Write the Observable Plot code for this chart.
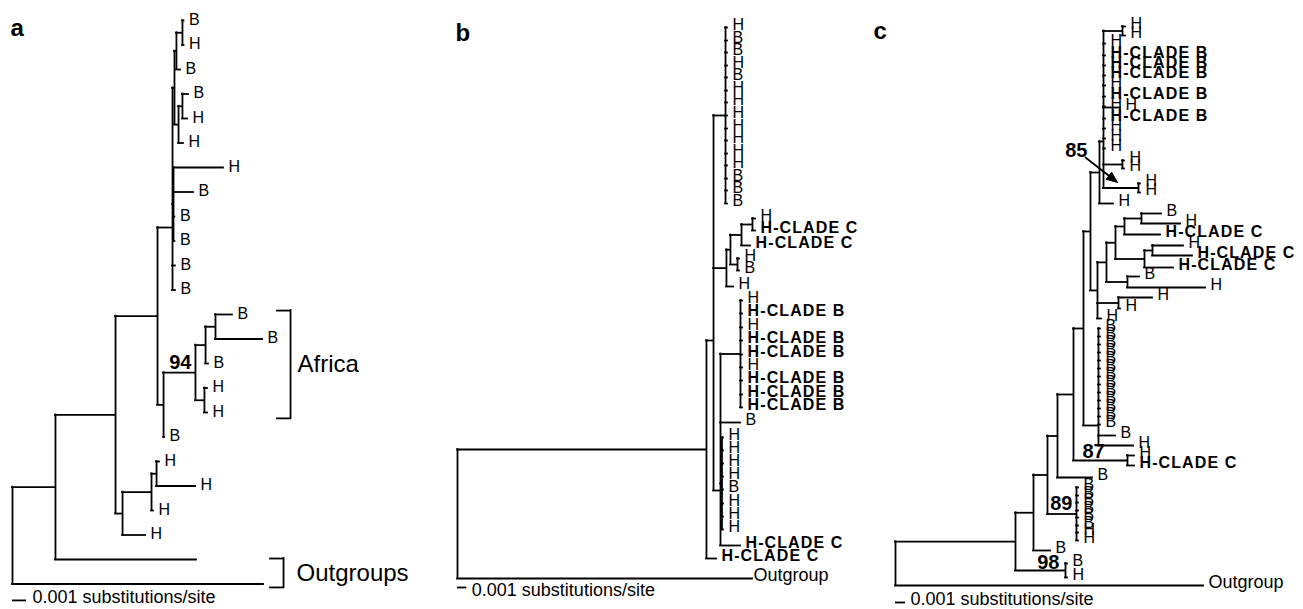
<!DOCTYPE html>
<html>
<head>
<meta charset="utf-8">
<script src="https://cdn.jsdelivr.net/npm/d3@7"></script>
<script src="https://cdn.jsdelivr.net/npm/@observablehq/plot@0.6"></script>
<style>
  html, body { margin: 0; padding: 0; background: #fff; }
  #fig { position: relative; width: 1303px; height: 609px; overflow: hidden; background: #fff; }
</style>
</head>
<body>
<div id="fig"></div>
<script>
// ---------------- DATA ----------------
// Each tree row: [node id (null for a tip), parent id, distance from root (substitutions/site),
//                 vertical row (tips; null = midway between children), tip label]
const treeA = [
  ["R", null, 0, null, ""],
  ["N1", "R", 0.00307, null, ""],
  [null, "R", 0.01793, 23, ""],
  ["N2", "N1", 0.00736, null, ""],
  [null, "N1", 0.01314, 22, ""],
  ["N3", "N2", 0.01036, null, ""],
  ["NH", "N2", 0.00786, null, ""],
  ["NH1", "NH", 0.00993, null, ""],
  ["NH2", "NH1", 0.01029, null, ""],
  [null, "NH2", 0.0105, 18, "H"],
  [null, "NH2", 0.01307, 19, "H"],
  [null, "NH1", 0.01007, 20, "H"],
  [null, "NH", 0.0095, 21, "H"],
  ["U0", "N3", 0.01143, 8.45, ""],
  ["N5", "N3", 0.01079, null, ""],
  ["N94", "N5", 0.01307, null, ""],
  [null, "N5", 0.01086, 17, "B"],
  ["NA1", "N94", 0.01379, null, ""],
  ["NA2", "N94", 0.01371, null, ""],
  ["NA3", "NA1", 0.0145, null, ""],
  [null, "NA3", 0.01571, 12, "B"],
  [null, "NA3", 0.01786, 13, "B"],
  [null, "NA1", 0.014, 14, "B"],
  [null, "NA2", 0.01393, 15, "H"],
  [null, "NA2", 0.01393, 16, "H"],
  ["U1", "U0", 0.01157, null, ""],
  ["T1", "U1", 0.01171, null, ""],
  ["T1a", "T1", 0.01214, null, ""],
  [null, "T1a", 0.01225, 0, "B"],
  [null, "T1a", 0.01225, 1, "H"],
  [null, "T1", 0.012, 2, "B"],
  ["T2", "U1", 0.01186, null, ""],
  ["T2a", "T2", 0.01214, null, ""],
  [null, "T2a", 0.01257, 3, "B"],
  [null, "T2a", 0.0125, 4, "H"],
  [null, "T2", 0.01221, 5, "H"],
  ["U0b", "U0", 0.0115, null, ""],
  [null, "U0b", 0.01507, 6, "H"],
  [null, "U0b", 0.01293, 7, "B"],
  [null, "U0b", 0.0116, 8, "B"],
  [null, "U0b", 0.0116, 9, "B"],
  [null, "U0", 0.01164, 10, "B"],
  [null, "U0", 0.01164, 11, "B"]
];

const treeB = [
  ["R", null, 0, null, ""],
  [null, "R", 0.03172, 57.8, "Outgroup"],
  ["B1", "R", 0.02677, null, ""],
  [null, "B1", 0.02785, 55.8, "H-CLADE C"],
  ["B2", "B1", 0.02753, 34.0, ""],
  ["TC", "B2", 0.02882, null, ""],
  [null, "TC", 0.02903, 2.7, "H"],
  [null, "TC", 0.02903, 4.0, "B"],
  [null, "TC", 0.02903, 5.2, "B"],
  [null, "TC", 0.02903, 6.5, "H"],
  [null, "TC", 0.02903, 7.7, "B"],
  [null, "TC", 0.02903, 9.0, "H"],
  [null, "TC", 0.02903, 10.2, "H"],
  [null, "TC", 0.02903, 11.5, "H"],
  [null, "TC", 0.02903, 12.8, "H"],
  [null, "TC", 0.02903, 14.0, "H"],
  [null, "TC", 0.02903, 15.3, "H"],
  [null, "TC", 0.02903, 16.5, "H"],
  [null, "TC", 0.02903, 17.8, "B"],
  [null, "TC", 0.02903, 19.0, "B"],
  [null, "TC", 0.02903, 20.3, "B"],
  ["M", "B2", 0.02892, null, ""],
  ["M1", "M", 0.02935, null, ""],
  ["Cb1", "M1", 0.03054, null, ""],
  ["Cb2", "Cb1", 0.03172, null, ""],
  [null, "Cb2", 0.03204, 21.8, "H"],
  [null, "Cb2", 0.03204, 23.0, "H-CLADE C"],
  [null, "Cb1", 0.03151, 24.5, "H-CLADE C"],
  ["Mb", "M1", 0.03011, null, ""],
  [null, "Mb", 0.03032, 25.8, "H"],
  [null, "Mb", 0.03032, 27.0, "B"],
  [null, "M", 0.02968, 28.6, "H"],
  ["L", "B2", 0.02828, 49.0, ""],
  ["CB", "L", 0.03043, null, ""],
  [null, "CB", 0.03065, 30.0, "H"],
  [null, "CB", 0.03065, 31.3, "H-CLADE B"],
  [null, "CB", 0.03065, 32.7, "H"],
  [null, "CB", 0.03065, 34.0, "H-CLADE B"],
  [null, "CB", 0.03065, 35.4, "H-CLADE B"],
  [null, "CB", 0.03065, 36.7, "H"],
  [null, "CB", 0.03065, 38.0, "H-CLADE B"],
  [null, "CB", 0.03065, 39.4, "H-CLADE B"],
  [null, "CB", 0.03065, 40.7, "H-CLADE B"],
  [null, "L", 0.03043, 42.2, "B"],
  ["HC", "L", 0.02844, null, ""],
  [null, "HC", 0.0286, 43.7, "H"],
  [null, "HC", 0.0286, 45.0, "H"],
  [null, "HC", 0.0286, 46.3, "H"],
  [null, "HC", 0.0286, 47.6, "H"],
  [null, "HC", 0.0286, 48.9, "B"],
  [null, "HC", 0.0286, 50.3, "H"],
  [null, "HC", 0.0286, 51.6, "H"],
  [null, "HC", 0.0286, 52.9, "H"],
  [null, "L", 0.03043, 54.5, "H-CLADE C"]
];

const treeC = [
  ["R", null, 0, null, ""],
  [null, "R", 0.0308, 58.5, "Outgroup"],
  ["C1", "R", 0.012, null, ""],
  ["C98", "C1", 0.017, null, ""],
  [null, "C98", 0.0172, 56.3, "B"],
  [null, "C98", 0.0172, 57.7, "H"],
  ["C2", "C1", 0.0138, null, ""],
  [null, "C2", 0.0155, 55.0, "B"],
  ["C3", "C2", 0.0152, null, ""],
  ["C89", "C3", 0.0181, null, ""],
  [null, "C89", 0.0183, 48.7, "B"],
  [null, "C89", 0.0183, 49.5, "B"],
  [null, "C89", 0.0183, 50.2, "B"],
  [null, "C89", 0.0183, 51.0, "B"],
  [null, "C89", 0.0183, 51.7, "B"],
  [null, "C89", 0.0183, 52.5, "B"],
  [null, "C89", 0.0183, 53.2, "H"],
  [null, "C89", 0.0183, 54.0, "H"],
  ["C4", "C3", 0.0162, null, ""],
  [null, "C4", 0.0197, 47.7, "B"],
  ["C5", "C4", 0.0178, null, ""],
  ["C7", "C5", 0.0232, null, ""],
  [null, "C7", 0.0239, 45.5, "H"],
  [null, "C7", 0.0239, 46.5, "H-CLADE C"],
  ["C6", "C5", 0.0188, null, ""],
  ["CBc", "C6", 0.0203, 42.5, ""],
  [null, "CBc", 0.0205, 32.8, "B"],
  [null, "CBc", 0.0205, 33.6, "B"],
  [null, "CBc", 0.0205, 34.4, "B"],
  [null, "CBc", 0.0205, 35.2, "B"],
  [null, "CBc", 0.0205, 36.0, "B"],
  [null, "CBc", 0.0205, 36.8, "B"],
  [null, "CBc", 0.0205, 37.6, "B"],
  [null, "CBc", 0.0205, 38.4, "B"],
  [null, "CBc", 0.0205, 39.2, "B"],
  [null, "CBc", 0.0205, 40.0, "B"],
  [null, "CBc", 0.0205, 40.8, "B"],
  [null, "CBc", 0.0205, 41.6, "B"],
  [null, "CBc", 0.0205, 42.4, "B"],
  [null, "CBc", 0.022, 43.5, "B"],
  [null, "CBc", 0.0238, 44.5, "H"],
  ["C8", "C6", 0.0195, null, ""],
  ["C9", "C8", 0.0202, null, ""],
  ["C10", "C9", 0.0211, null, ""],
  ["C11", "C10", 0.022, null, ""],
  ["C13", "C11", 0.0229, null, ""],
  ["C14", "C13", 0.0246, null, ""],
  [null, "C14", 0.0266, 21.3, "B"],
  [null, "C14", 0.0285, 22.3, "H"],
  [null, "C13", 0.0265, 23.4, "H-CLADE C"],
  ["C15", "C11", 0.0249, null, ""],
  ["C16", "C15", 0.0257, null, ""],
  [null, "C16", 0.0288, 24.5, "H"],
  [null, "C16", 0.0297, 25.5, "H-CLADE C"],
  [null, "C15", 0.0278, 26.7, "H-CLADE C"],
  ["C12", "C10", 0.0232, null, ""],
  [null, "C12", 0.0244, 27.6, "B"],
  [null, "C12", 0.031, 28.7, "H"],
  ["HH", "C9", 0.0223, null, ""],
  [null, "HH", 0.0257, 29.7, "H"],
  [null, "HH", 0.0225, 30.8, "H"],
  [null, "C9", 0.0206, 31.8, "H"],
  ["P85", "C8", 0.0204, null, ""],
  [null, "P85", 0.0218, 20.3, "H"],
  ["T85", "P85", 0.0208, 14.1, ""],
  ["HHt", "T85", 0.0227, null, ""],
  [null, "HHt", 0.023, 2.6, "H"],
  [null, "HHt", 0.023, 3.5, "H"],
  [null, "T85", 0.021, 4.3, "H"],
  [null, "T85", 0.021, 5.5, "H-CLADE B"],
  [null, "T85", 0.021, 6.5, "H-CLADE B"],
  [null, "T85", 0.021, 7.5, "H-CLADE B"],
  [null, "T85", 0.021, 8.5, "H"],
  [null, "T85", 0.021, 9.6, "H-CLADE B"],
  [null, "T85", 0.021, 10.6, "H"],
  [null, "T85", 0.021, 11.8, "H-CLADE B"],
  [null, "T85", 0.021, 12.8, "H"],
  [null, "T85", 0.021, 13.8, "H"],
  [null, "T85", 0.021, 14.8, "H"],
  [null, "T85", 0.0225, 10.7, "H"],
  ["HH1", "T85", 0.0227, null, ""],
  [null, "HH1", 0.0229, 16.0, "H"],
  [null, "HH1", 0.0229, 16.8, "H"],
  ["HH2", "T85", 0.0243, null, ""],
  [null, "HH2", 0.0245, 18.3, "H"],
  [null, "HH2", 0.0245, 19.2, "H"]
];

// bootstrap support: [node, value]
const supportA = [["N94", "94"]];
const supportB = [];
const supportC = [["HH2", "85"], ["C7", "87"], ["C89", "89"], ["C98", "98"]];

// brackets in panel a: [label, first tip row, last tip row]
const bracketsA = [["Africa", 12, 16], ["Outgroups", 22, 23]];

const panelLetters = ["a", "b", "c"];
const barValue = 0.001;
const barText = "0.001 substitutions/site";

// ---------------- LAYOUT / STYLE ----------------
const FONT = '"Liberation Sans", Arial, Helvetica, sans-serif';
const SW = 1.8;

const layouts = [
  {tree: treeA, supports: supportA, brackets: bracketsA, left: 0, width: 440, rootPx: 12, barPx: 14,
   rowTop: 20, rowPx: 24.5, labelDy: -1, outgroupDx: 3, barRow: 23.67, barTextDx: 6, barTextDy: -3,
   letterDx: 10, letterY: 18.3},
  {tree: treeB, supports: supportB, brackets: [], left: 440, width: 430, rootPx: 17, barPx: 9.3,
   rowTop: 0, rowPx: 10, labelDy: -3, outgroupDx: 1, barRow: 58.7, barTextDx: 5, barTextDy: 3,
   letterDx: 15, letterY: 23.3},
  {tree: treeC, supports: supportC, brackets: [], left: 870, width: 433, rootPx: 25, barPx: 10,
   rowTop: 0, rowPx: 10, labelDy: -3, outgroupDx: 5, barRow: 60.2, barTextDx: 5, barTextDy: -3,
   letterDx: 3, letterY: 21.3}
];

const bracketStyle = {
  Africa: {x: 0.01986, padTop: 0.16, padBottom: 0.24, labelDx: 7},
  Outgroups: {x: 0.01936, padTop: 0.04, padBottom: 0.14, labelDx: 13}
};
const bracketTickPx = 13;

const supportStyle = {
  N94: {ref: "self", anchor: "end", dx: -4, dy: -10},
  HH2: {ref: "parent", anchor: "end", dx: -16, dy: -37.5, arrow: {from: [-18, -30.5], to: [14, -5.5]}},
  C7:  {ref: "parent", anchor: "start", dx: 9, dy: -9},
  C89: {ref: "self", anchor: "end", dx: -4, dy: -10.5},
  C98: {ref: "self", anchor: "end", dx: -6, dy: -8}
};

function layoutTree(table) {
  const nodes = table.map(([id, parent, dist, row, label], i) =>
    ({id: id ?? `tip${i}`, parent, dist, row, label, children: []}));
  const byId = new Map(nodes.map(n => [n.id, n]));
  let root;
  for (const n of nodes) {
    if (n.parent == null) root = n;
    else { n.parentNode = byId.get(n.parent); n.parentNode.children.push(n); }
  }
  (function place(n) {
    if (!n.children.length) { n.y = n.row; return n.y; }
    const ys = n.children.map(place);
    const lo = Math.min(...ys), hi = Math.max(...ys);
    n.y = n.row ?? (lo + hi) / 2;
    n.lo = Math.min(lo, n.y); n.hi = Math.max(hi, n.y);
    return n.y;
  })(root);
  return {nodes, byId};
}

function buildPanel(p, letter) {
  const {nodes, byId} = layoutTree(p.tree);
  const unit = barValue / p.barPx;          // data units per pixel (x)
  const rowUnit = 1 / p.rowPx;              // data units per pixel (y)
  const horiz = nodes.filter(n => n.parentNode).map(n => ({y: n.y, x1: n.parentNode.dist, x2: n.dist}));
  const vert = nodes.filter(n => n.children.length).map(n => ({x: n.dist, y1: n.lo, y2: n.hi}));
  const tips = nodes.filter(n => !n.children.length && n.label);
  const plain = tips.filter(n => !n.label.includes("CLADE") && n.label !== "Outgroup");
  const clade = tips.filter(n => n.label.includes("CLADE"));
  const outg = tips.filter(n => n.label === "Outgroup");
  const line = {stroke: "#000", strokeWidth: SW, strokeLinecap: "square"};

  const marks = [
    Plot.ruleY(horiz, {y: "y", x1: "x1", x2: "x2", ...line}),
    Plot.ruleX(vert, {x: "x", y1: "y1", y2: "y2", ...line}),
    Plot.text(plain, {x: "dist", y: "y", text: "label", dx: 5, dy: p.labelDy, textAnchor: "start", fontSize: 16, fill: "#000"}),
    Plot.text(clade, {x: "dist", y: "y", text: "label", dx: 5, dy: p.labelDy, textAnchor: "start", fontSize: 16, fontWeight: "bold", fill: "#000"}),
    Plot.text(outg, {x: "dist", y: "y", text: "label", dx: p.outgroupDx, dy: p.labelDy, textAnchor: "start", fontSize: 18, fill: "#000"}),
    // scale bar
    Plot.ruleY([p.barRow], {y: d => d, x1: () => 0, x2: () => barValue, stroke: "#000", strokeWidth: SW}),
    Plot.text([barText], {x: () => barValue, y: () => p.barRow, text: d => d, dx: p.barTextDx, dy: p.barTextDy, textAnchor: "start", fontSize: 18, fill: "#000"}),
    // panel letter
    Plot.text([letter], {frameAnchor: "top-left", text: d => d, dx: p.letterDx, dy: p.letterY, textAnchor: "start", fontSize: 24, fontWeight: "bold", fill: "#000"})
  ];

  // brackets
  for (const [label, from, to] of p.brackets) {
    const s = bracketStyle[label];
    const top = from - s.padTop, bottom = to + s.padBottom;
    const tick = bracketTickPx * unit;
    marks.push(
      Plot.ruleX([s.x], {x: d => d, y1: () => top, y2: () => bottom, ...line}),
      Plot.ruleY([top, bottom], {y: d => d, x1: () => s.x - tick, x2: () => s.x, ...line}),
      Plot.text([label], {x: () => s.x, y: () => (top + bottom) / 2, text: d => d, dx: s.labelDx, textAnchor: "start", fontSize: 24, fill: "#000"})
    );
  }

  // support values
  for (const [id, value] of p.supports) {
    const s = supportStyle[id];
    const node = byId.get(id);
    const ref = s.ref === "parent" ? node.parentNode : node;
    const ax = ref.dist, ay = node.y;
    marks.push(Plot.text([value], {x: () => ax, y: () => ay, text: d => d, dx: s.dx, dy: s.dy,
      textAnchor: s.anchor, fontSize: 20, fontWeight: "bold", fill: "#000"}));
    if (s.arrow) {
      const [fx, fy] = s.arrow.from, [tx, ty] = s.arrow.to;
      const vx = tx - fx, vy = ty - fy, len = Math.hypot(vx, vy);
      const ux = vx / len, uy = vy / len;
      const headLen = 11, headHalf = 4.5;
      const bx = tx - headLen * ux, by = ty - headLen * uy;
      const P = (px, py) => ({x: ax + px * unit, y: ay + py * rowUnit});
      const shaft = [P(fx, fy), P(bx, by)];
      const head = [P(tx, ty), P(bx - headHalf * uy, by + headHalf * ux), P(bx + headHalf * uy, by - headHalf * ux), P(tx, ty)];
      marks.push(
        Plot.line(shaft, {x: "x", y: "y", stroke: "#000", strokeWidth: SW}),
        Plot.line(head, {x: "x", y: "y", fill: "#000", stroke: "#000", strokeWidth: 1})
      );
    }
  }

  const svg = Plot.plot({
    width: p.width,
    height: 609,
    margin: 0,
    x: {type: "linear", domain: [0, barValue], range: [p.rootPx, p.rootPx + p.barPx], axis: null},
    y: {type: "linear", domain: [0, 1], range: [p.rowTop, p.rowTop + p.rowPx], axis: null},
    style: {fontFamily: FONT, background: "transparent", overflow: "visible", color: "#000"},
    marks
  });
  svg.style.position = "absolute";
  svg.style.left = p.left + "px";
  svg.style.top = "0px";
  svg.querySelectorAll("text").forEach(t => {
    if (t.textContent.includes("CLADE")) t.style.letterSpacing = "1.1px";
  });
  return svg;
}

const fig = document.getElementById("fig");
layouts.forEach((p, i) => fig.appendChild(buildPanel(p, panelLetters[i])));
</script>
</body>
</html>
